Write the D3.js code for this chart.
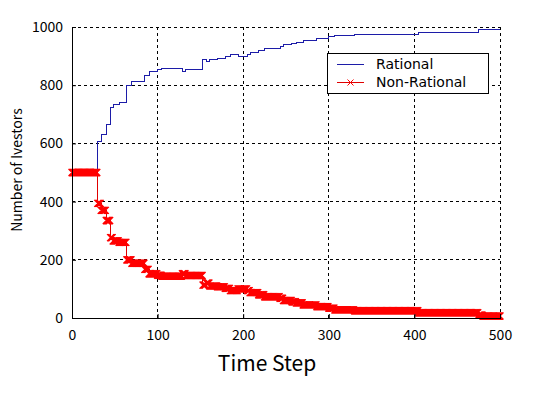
<!DOCTYPE html>
<html>
<head>
<meta charset="utf-8">
<script src="https://cdn.jsdelivr.net/npm/d3@7"></script>
<style>
  body { margin: 0; background: #fff; }
  text { font-family: "Noto Sans CJK JP", "Noto Sans", sans-serif; }
</style>
</head>
<body>
<script>
(function(){
//step table: time step where the count changes
var stepTimes = [0, 30, 34, 40, 45, 48, 55, 64, 70, 85, 90, 100, 105, 129, 133, 153, 157, 161, 170, 179, 185, 194, 205, 208, 218, 225, 243, 247, 257, 262, 270, 286, 300, 307, 330, 405, 475, 480];
var rationalCounts = [500, 606, 630, 665, 724, 735, 740, 800, 812, 833, 848, 853, 856, 848, 854, 887, 880, 890, 893, 898, 906, 900, 906, 913, 920, 927, 932, 940, 944, 948, 955, 961, 966, 972, 975, 982, 990, 993];
var nonRationalCounts = [500, 394, 370, 335, 276, 265, 260, 200, 188, 167, 152, 147, 144, 152, 146, 113, 120, 110, 107, 102, 94, 100, 94, 87, 80, 73, 68, 60, 56, 52, 45, 39, 34, 28, 25, 18, 10, 7];
var lastStep = 500;

var xTicks = [0, 100, 200, 300, 400, 500];
var yTicks = [0, 200, 400, 600, 800, 1000];
var seriesNames = ["Rational", "Non-Rational"];

//frame
var width = 553,
    height = 397,
    left = 72,
    right = 500,
    top = 27,
    bottom = 318;

var svg = d3.select("body")
    .append("svg")
    .attr("width", width)
    .attr("height", height);

var x = d3.scaleLinear().domain([0, 500]).range([left, right]);
var y = d3.scaleLinear().domain([0, 1000]).range([bottom, top]);

//grid lines (dashed, including top and right edges)
svg.selectAll(".vgrid")
    .data(xTicks.slice(1))
    .enter()
    .append("line")
    .attr("x1", function(d){ return x(d); })
    .attr("x2", function(d){ return x(d); })
    .attr("y1", top)
    .attr("y2", bottom)
    .attr("stroke", "#000")
    .attr("stroke-width", 1)
    .attr("stroke-dasharray", "3,3")
    .attr("shape-rendering", "crispEdges");

svg.selectAll(".hgrid")
    .data(yTicks.slice(1))
    .enter()
    .append("line")
    .attr("x1", left)
    .attr("x2", right)
    .attr("y1", function(d){ return y(d); })
    .attr("y2", function(d){ return y(d); })
    .attr("stroke", "#000")
    .attr("stroke-width", 1)
    .attr("stroke-dasharray", "3,3")
    .attr("shape-rendering", "crispEdges");

//build step lines from the table
function stepPoints(vals){
    var pts = stepTimes.map(function(t, i){ return [t, vals[i]]; });
    pts.push([lastStep, vals[vals.length - 1]]);
    return pts;
}

var line = d3.line()
    .x(function(d){ return x(d[0]); })
    .y(function(d){ return y(d[1]); })
    .curve(d3.curveStepAfter);

svg.append("path")
    .datum(stepPoints(rationalCounts))
    .attr("fill", "none")
    .attr("stroke", "#1c1ca8")
    .attr("stroke-width", 1)
    .attr("shape-rendering", "crispEdges")
    .attr("d", line);

svg.append("path")
    .datum(stepPoints(nonRationalCounts))
    .attr("fill", "none")
    .attr("stroke", "#e00000")
    .attr("stroke-width", 1)
    .attr("shape-rendering", "crispEdges")
    .attr("d", line);

//x markers at every time step (count held from the step table)
function heldValue(t){
    var i = d3.bisectRight(stepTimes, t) - 1;
    return nonRationalCounts[i];
}

var ms = 3.5;
function crossPath(cx, cy){
    return "M" + (cx - ms) + "," + (cy - ms) + "L" + (cx + ms) + "," + (cy + ms) +
           "M" + (cx - ms) + "," + (cy + ms) + "L" + (cx + ms) + "," + (cy - ms);
}

var markerData = d3.range(0, lastStep + 1);
svg.append("path")
    .attr("fill", "none")
    .attr("stroke", "#ff0000")
    .attr("stroke-width", 1.2)
    .attr("d", markerData.map(function(t){
        return crossPath(x(t), y(heldValue(t)));
    }).join(""));

//axes
var xAxis = d3.axisBottom(x).tickValues(xTicks).tickFormat(d3.format("d")).tickSizeInner(-4).tickSizeOuter(0).tickPadding(12);
var yAxis = d3.axisLeft(y).tickValues(yTicks).tickFormat(d3.format("d")).tickSizeInner(-4).tickSizeOuter(0).tickPadding(9);

var gx = svg.append("g")
    .attr("transform", "translate(0," + bottom + ")")
    .call(xAxis);
var gy = svg.append("g")
    .attr("transform", "translate(" + left + ",0)")
    .call(yAxis);

[gx, gy].forEach(function(g){
    g.select(".domain").attr("stroke", "#000").attr("stroke-width", 1).attr("shape-rendering", "crispEdges");
    g.selectAll(".tick line").attr("stroke", "#000");
    g.selectAll(".tick text")
        .attr("fill", "#000")
        .style("font-family", "'Noto Sans CJK JP', sans-serif")
        .style("font-size", "14px");
});

//axis labels
svg.append("text")
    .attr("x", 267)
    .attr("y", 371)
    .attr("text-anchor", "middle")
    .style("font-size", "21px")
    .style("font-family", "'Noto Sans CJK JP', sans-serif")
    .text("Time Step");

svg.append("text")
    .attr("transform", "translate(22,170) rotate(-90)")
    .attr("text-anchor", "middle")
    .style("font-size", "14px")
    .style("font-family", "'Noto Sans CJK JP', sans-serif")
    .text("Number of Ivestors");

//legend
var legend = svg.append("g");
legend.append("rect")
    .attr("x", 327.5)
    .attr("y", 53.5)
    .attr("width", 161)
    .attr("height", 40)
    .attr("fill", "#fff")
    .attr("stroke", "#000")
    .attr("stroke-width", 1);

var legendColors = ["#1c1ca8", "#e00000"];
var legendY = [64, 82];
seriesNames.forEach(function(name, i){
    legend.append("line")
        .attr("x1", 337)
        .attr("x2", 364)
        .attr("y1", legendY[i] + 0.5)
        .attr("y2", legendY[i] + 0.5)
        .attr("stroke", legendColors[i])
        .attr("stroke-width", 1);
    if (i == 1){
        ms = 3;
        legend.append("path")
            .attr("fill", "none")
            .attr("stroke", "#ff0000")
            .attr("d", crossPath(350.5, legendY[i] + 0.5));
    };
    legend.append("text")
        .attr("x", 376)
        .attr("y", legendY[i] + 5)
        .style("font-size", "14px")
        .style("font-family", "'DejaVu Sans', sans-serif")
        .text(name);
});

})();
</script>
</body>
</html>
